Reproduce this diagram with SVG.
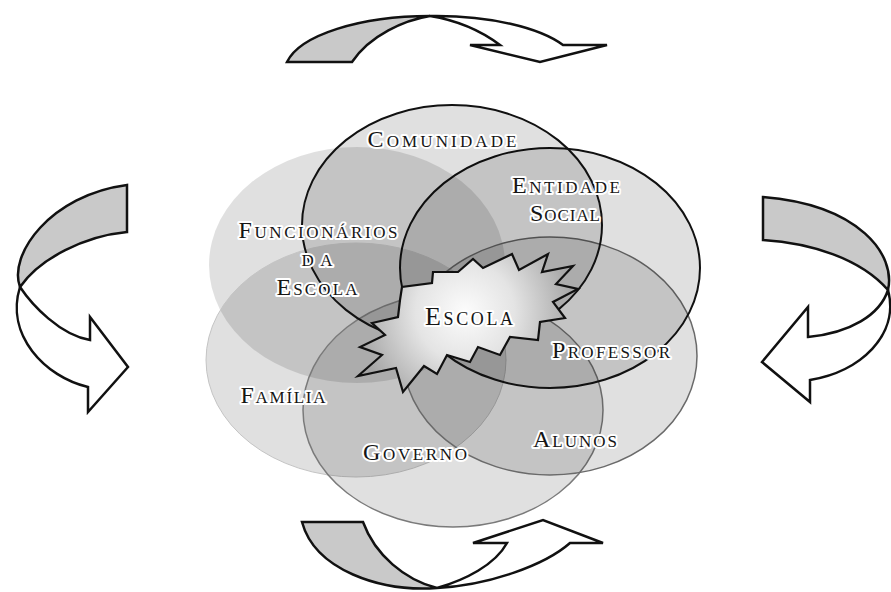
<svg xmlns="http://www.w3.org/2000/svg" width="891" height="592" viewBox="0 0 891 592">
<style>
.arr{stroke:#111;stroke-width:2.5;stroke-linejoin:miter}
.back{fill:#c9c9c9}
.front{fill:#fff}
.blob{fill:#000;fill-opacity:0.12}
.lbl{font-family:"Liberation Serif","DejaVu Serif",serif;font-variant:small-caps;font-size:24px;fill:#151515;stroke:#fff;stroke-width:4;stroke-linejoin:round;paint-order:stroke;text-anchor:middle}
.big{font-size:26px}
</style>
<defs>
<radialGradient id="starg" cx="465" cy="312" r="110" gradientUnits="userSpaceOnUse">
<stop offset="0" stop-color="#fcfcfc"/>
<stop offset="0.45" stop-color="#e4e4e4"/>
<stop offset="1" stop-color="#a5a5a5"/>
</radialGradient>
</defs>
<rect width="891" height="592" fill="#fff"/>
<g id="connectors">
<g id="arrow-top">
<path class="arr back" d="M287,62 C300,35 360,16 430,16 C405,20 370,35 352,62 Z"/>
<path class="arr front" d="M430,16 C490,15 540,28 563,45 L607,45 L540,62 L470,45 L500,45 C480,30 455,20 430,16 Z"/>
</g>
<g id="arrow-bottom">
<path class="arr back" d="M302,522 L363,522 C375,555 405,580 437,588 C380,592 315,570 302,522 Z"/>
<path class="arr front" d="M437,588 C490,585 545,565 570,543 L603,543 L543,520 L473,543 L507,543 C495,565 465,580 437,588 Z"/>
</g>
<g id="arrow-left">
<path class="arr back" d="M127,185 L127,232 C85,236 40,258 20,287 C8,255 50,195 127,185 Z"/>
<path class="arr front" d="M20,287 C32,305 60,335 90,340 L90,317 L128,367 L88,412 L88,387 C45,377 5,335 20,287 Z"/>
</g>
<g id="arrow-right">
<path class="arr back" d="M763,197 L763,240 C810,243 860,258 888,290 C896,255 860,205 763,197 Z"/>
<path class="arr front" d="M888,290 C880,315 850,333 808,337 L808,307 L762,362 L810,402 L810,380 C860,372 900,335 888,290 Z"/>
</g>
</g>
<g id="funcionarios"><ellipse class="blob" cx="357" cy="265" rx="148" ry="118"/></g>
<g id="familia"><ellipse class="blob" cx="356" cy="360" rx="150" ry="117" stroke="#c4c4c4" stroke-width="1" stroke-opacity="1"/></g>
<g id="governo"><ellipse class="blob" cx="453" cy="410" rx="150" ry="117" stroke="#7a7a7a" stroke-width="1.5" stroke-opacity="1"/></g>
<g id="alunos"><ellipse class="blob" cx="550" cy="356" rx="147" ry="119" stroke="#6a6a6a" stroke-width="1.5" stroke-opacity="1"/></g>
<g id="entidade"><ellipse class="blob" cx="550" cy="268" rx="150" ry="120" stroke="#111" stroke-width="2" stroke-opacity="1"/></g>
<g id="comunidade"><ellipse class="blob" cx="452" cy="225" rx="150" ry="120" stroke="#111" stroke-width="2" stroke-opacity="1"/></g>
<g id="escola">
<polygon points="400,300 402,287 432,283 433,272 458,272 473,259 483,268 512,254 519,270 548,254 542,272 573,266 556,284 578,289 553,302 565,318 540,322 538,340 510,337 500,355 478,347 470,362 447,355 437,374 424,366 403,392 396,368 358,376 382,355 360,347 385,335 372,323 398,317" fill="url(#starg)" stroke="#111" stroke-width="2.2" stroke-linejoin="miter"/>
<text class="lbl big" x="469" y="325" textLength="88" lengthAdjust="spacing">Escola</text>
</g>
<g id="labels">
<text class="lbl" x="442" y="147" textLength="149" lengthAdjust="spacing">Comunidade</text>
<text class="lbl" x="566" y="193" textLength="108" lengthAdjust="spacing">Entidade</text>
<text class="lbl" x="565" y="221" textLength="70" lengthAdjust="spacing">Social</text>
<text class="lbl" x="318" y="238" textLength="159" lengthAdjust="spacing">Funcionários</text>
<text class="lbl" x="317" y="266" textLength="31" lengthAdjust="spacing">da</text>
<text class="lbl" x="317" y="295" textLength="81" lengthAdjust="spacing">Escola</text>
<text class="lbl" x="611" y="358" textLength="118" lengthAdjust="spacing">Professor</text>
<text class="lbl" x="283" y="403" textLength="85" lengthAdjust="spacing">Família</text>
<text class="lbl" x="415" y="460" textLength="104" lengthAdjust="spacing">Governo</text>
<text class="lbl" x="575" y="447" textLength="84" lengthAdjust="spacing">Alunos</text>
</g>
</svg>
